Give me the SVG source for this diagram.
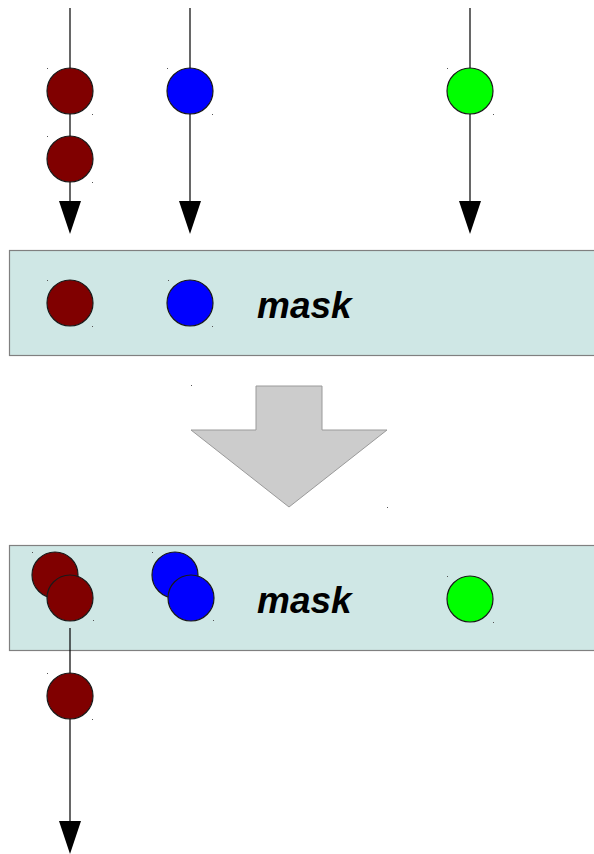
<svg xmlns="http://www.w3.org/2000/svg" width="594" height="854" viewBox="0 0 594 854">
  <style>
    .wire { stroke: #000; stroke-width: 1.2; fill: none; }
    .head { fill: #000; }
    .ball { stroke: #1a1a1a; stroke-width: 1.2; }
    .red { fill: #800000; }
    .blue { fill: #0000ff; }
    .green { fill: #00ff00; }
    .mask { fill: #cfe7e5; stroke: #808080; stroke-width: 1.2; }
    .label { font-family: "Liberation Sans", Arial, sans-serif; font-weight: bold; font-style: italic; font-size: 37px; fill: #000; }
    .speck { fill: #555; }
  </style>
  <defs>
    <polygon id="arrowhead" class="head" points="-11,0 11,0 0,33"/>
  </defs>

  <!-- first mask -->
  <g id="mask-1">
    <rect class="mask" x="9.5" y="250.5" width="600" height="105"/>
    <circle class="ball red" cx="70" cy="303" r="23"/>
    <rect class="speck" x="47" y="280" width="1" height="1"/><rect class="speck" x="92" y="326" width="1" height="1"/>
    <circle class="ball blue" cx="190" cy="303" r="23"/>
    <rect class="speck" x="168" y="280" width="1" height="1"/><rect class="speck" x="212" y="326" width="1" height="1"/>
    <text class="label" x="257" y="318">mask</text>
  </g>

  <!-- transition arrow -->
  <g id="transition">
    <polygon points="256,386 322,386 322,430 387,430 289,507 191,430 256,430" fill="#cccccc" stroke="#9a9a9a" stroke-width="1"/>
    <rect class="speck" x="191" y="385" width="1" height="1"/><rect class="speck" x="387" y="507" width="1" height="1"/>
  </g>

  <!-- second mask -->
  <g id="mask-2">
    <rect class="mask" x="9.5" y="545.5" width="600" height="105"/>
    <circle class="ball red" cx="55" cy="575" r="23"/>
    <circle class="ball red" cx="70" cy="598" r="23"/>
    <rect class="speck" x="32" y="552" width="1" height="1"/><rect class="speck" x="93" y="620" width="1" height="1"/>
    <circle class="ball blue" cx="175" cy="575" r="23"/>
    <circle class="ball blue" cx="191" cy="598" r="23"/>
    <rect class="speck" x="152" y="552" width="1" height="1"/><rect class="speck" x="213" y="620" width="1" height="1"/>
    <circle class="ball green" cx="470" cy="599" r="23"/>
    <rect class="speck" x="447" y="576" width="1" height="1"/><rect class="speck" x="493" y="622" width="1" height="1"/>
    <text class="label" x="257" y="613">mask</text>
  </g>

  <!-- connectors: streams feeding the first mask, and the one leaving the second -->
  <g id="connectors">
    <line class="wire" x1="70" y1="8" x2="70" y2="202"/>
    <use href="#arrowhead" x="70" y="201"/>
    <line class="wire" x1="190" y1="8" x2="190" y2="202"/>
    <use href="#arrowhead" x="190" y="201"/>
    <line class="wire" x1="470" y1="8" x2="470" y2="202"/>
    <use href="#arrowhead" x="470" y="201"/>
    <line class="wire" x1="70" y1="628" x2="70" y2="823"/>
    <use href="#arrowhead" x="70" y="821"/>
  </g>

  <!-- incoming streams -->
  <g id="red-in-1"><circle class="ball red" cx="70" cy="91" r="23"/><rect class="speck" x="47" y="68" width="1" height="1"/><rect class="speck" x="92" y="114" width="1" height="1"/></g>
  <g id="red-in-2"><circle class="ball red" cx="70" cy="159" r="23"/><rect class="speck" x="47" y="136" width="1" height="1"/><rect class="speck" x="92" y="182" width="1" height="1"/></g>
  <g id="blue-in"><circle class="ball blue" cx="190" cy="91" r="23"/><rect class="speck" x="167" y="68" width="1" height="1"/><rect class="speck" x="212" y="114" width="1" height="1"/></g>
  <g id="green-in"><circle class="ball green" cx="470" cy="91" r="23"/><rect class="speck" x="447" y="68" width="1" height="1"/><rect class="speck" x="493" y="114" width="1" height="1"/></g>

  <!-- outgoing stream -->
  <g id="red-out"><circle class="ball red" cx="70" cy="696" r="23"/><rect class="speck" x="47" y="673" width="1" height="1"/><rect class="speck" x="92" y="719" width="1" height="1"/></g>
</svg>
